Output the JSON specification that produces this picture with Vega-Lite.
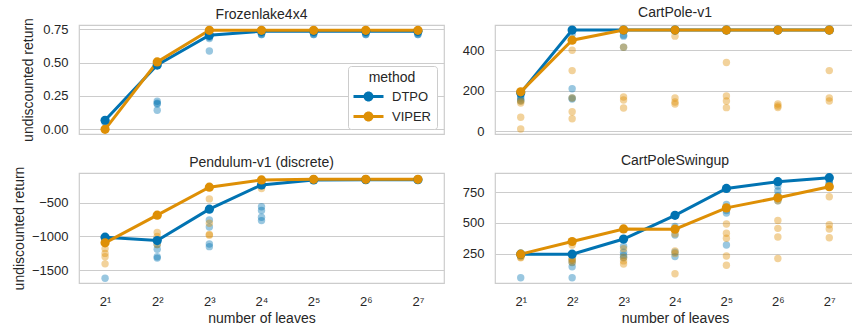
{
  "$schema": "https://vega.github.io/schema/vega-lite/v6.json",
  "background": "white",
  "padding": {"left": 11, "top": 5, "right": 0, "bottom": 0},
  "config": {
    "font": "Liberation Sans",
    "view": {"stroke": "#cccccc", "strokeWidth": 1.2},
    "axis": {"domain": false, "ticks": false, "labelFontSize": 13, "titleFontSize": 14, "labelColor": "#262626", "titleColor": "#262626", "titleFontWeight": "normal", "gridColor": "#cccccc", "gridWidth": 1, "labelPadding": 11, "titlePadding": 6},
    "axisX": {"grid": false},
    "axisY": {"grid": true, "tickCount": 10},
    "title": {"fontSize": 14, "fontWeight": "normal", "color": "#262626", "frame": "group"}
  },
  "datasets": {
    "frozen": [
      {"method":"DTPO","leaves":2,"ret":0.068},{"method":"DTPO","leaves":2,"ret":0.068},{"method":"DTPO","leaves":2,"ret":0.065},{"method":"DTPO","leaves":2,"ret":0.06},{"method":"DTPO","leaves":2,"ret":0.05},
      {"method":"DTPO","leaves":4,"ret":0.482},{"method":"DTPO","leaves":4,"ret":0.21},{"method":"DTPO","leaves":4,"ret":0.195},{"method":"DTPO","leaves":4,"ret":0.19},{"method":"DTPO","leaves":4,"ret":0.143},
      {"method":"DTPO","leaves":8,"ret":0.705},{"method":"DTPO","leaves":8,"ret":0.7},{"method":"DTPO","leaves":8,"ret":0.69},{"method":"DTPO","leaves":8,"ret":0.68},{"method":"DTPO","leaves":8,"ret":0.587},
      {"method":"DTPO","leaves":16,"ret":0.735},{"method":"DTPO","leaves":16,"ret":0.73},{"method":"DTPO","leaves":16,"ret":0.72},{"method":"DTPO","leaves":16,"ret":0.71},{"method":"DTPO","leaves":16,"ret":0.71},
      {"method":"DTPO","leaves":32,"ret":0.735},{"method":"DTPO","leaves":32,"ret":0.73},{"method":"DTPO","leaves":32,"ret":0.72},{"method":"DTPO","leaves":32,"ret":0.71},{"method":"DTPO","leaves":32,"ret":0.71},
      {"method":"DTPO","leaves":64,"ret":0.735},{"method":"DTPO","leaves":64,"ret":0.73},{"method":"DTPO","leaves":64,"ret":0.72},{"method":"DTPO","leaves":64,"ret":0.71},{"method":"DTPO","leaves":64,"ret":0.71},
      {"method":"DTPO","leaves":128,"ret":0.735},{"method":"DTPO","leaves":128,"ret":0.73},{"method":"DTPO","leaves":128,"ret":0.72},{"method":"DTPO","leaves":128,"ret":0.71},{"method":"DTPO","leaves":128,"ret":0.71},
      {"method":"VIPER","leaves":2,"ret":0},{"method":"VIPER","leaves":2,"ret":0},{"method":"VIPER","leaves":2,"ret":0},{"method":"VIPER","leaves":2,"ret":0},{"method":"VIPER","leaves":2,"ret":0},
      {"method":"VIPER","leaves":4,"ret":0.505},{"method":"VIPER","leaves":4,"ret":0.5},{"method":"VIPER","leaves":4,"ret":0.5},{"method":"VIPER","leaves":4,"ret":0.495},{"method":"VIPER","leaves":4,"ret":0.49},
      {"method":"VIPER","leaves":8,"ret":0.742},{"method":"VIPER","leaves":8,"ret":0.742},{"method":"VIPER","leaves":8,"ret":0.74},{"method":"VIPER","leaves":8,"ret":0.74},{"method":"VIPER","leaves":8,"ret":0.738},
      {"method":"VIPER","leaves":16,"ret":0.742},{"method":"VIPER","leaves":16,"ret":0.742},{"method":"VIPER","leaves":16,"ret":0.74},{"method":"VIPER","leaves":16,"ret":0.74},{"method":"VIPER","leaves":16,"ret":0.738},
      {"method":"VIPER","leaves":32,"ret":0.742},{"method":"VIPER","leaves":32,"ret":0.742},{"method":"VIPER","leaves":32,"ret":0.74},{"method":"VIPER","leaves":32,"ret":0.74},{"method":"VIPER","leaves":32,"ret":0.738},
      {"method":"VIPER","leaves":64,"ret":0.742},{"method":"VIPER","leaves":64,"ret":0.742},{"method":"VIPER","leaves":64,"ret":0.74},{"method":"VIPER","leaves":64,"ret":0.74},{"method":"VIPER","leaves":64,"ret":0.738},
      {"method":"VIPER","leaves":128,"ret":0.742},{"method":"VIPER","leaves":128,"ret":0.742},{"method":"VIPER","leaves":128,"ret":0.74},{"method":"VIPER","leaves":128,"ret":0.74},{"method":"VIPER","leaves":128,"ret":0.738}
    ],
    "cartpole": [
      {"method":"DTPO","leaves":2,"ret":190},{"method":"DTPO","leaves":2,"ret":175},{"method":"DTPO","leaves":2,"ret":165},{"method":"DTPO","leaves":2,"ret":155},{"method":"DTPO","leaves":2,"ret":150},
      {"method":"DTPO","leaves":4,"ret":500},{"method":"DTPO","leaves":4,"ret":480},{"method":"DTPO","leaves":4,"ret":210},{"method":"DTPO","leaves":4,"ret":165},{"method":"DTPO","leaves":4,"ret":160},
      {"method":"DTPO","leaves":8,"ret":500},{"method":"DTPO","leaves":8,"ret":500},{"method":"DTPO","leaves":8,"ret":475},{"method":"DTPO","leaves":8,"ret":470},{"method":"DTPO","leaves":8,"ret":415},
      {"method":"DTPO","leaves":16,"ret":500},{"method":"DTPO","leaves":16,"ret":500},{"method":"DTPO","leaves":16,"ret":500},{"method":"DTPO","leaves":16,"ret":500},{"method":"DTPO","leaves":16,"ret":500},
      {"method":"DTPO","leaves":32,"ret":500},{"method":"DTPO","leaves":32,"ret":500},{"method":"DTPO","leaves":32,"ret":500},{"method":"DTPO","leaves":32,"ret":500},{"method":"DTPO","leaves":32,"ret":500},
      {"method":"DTPO","leaves":64,"ret":500},{"method":"DTPO","leaves":64,"ret":500},{"method":"DTPO","leaves":64,"ret":500},{"method":"DTPO","leaves":64,"ret":500},{"method":"DTPO","leaves":64,"ret":500},
      {"method":"DTPO","leaves":128,"ret":500},{"method":"DTPO","leaves":128,"ret":500},{"method":"DTPO","leaves":128,"ret":500},{"method":"DTPO","leaves":128,"ret":500},{"method":"DTPO","leaves":128,"ret":500},
      {"method":"VIPER","leaves":2,"ret":195},{"method":"VIPER","leaves":2,"ret":150},{"method":"VIPER","leaves":2,"ret":140},{"method":"VIPER","leaves":2,"ret":70},{"method":"VIPER","leaves":2,"ret":12},
      {"method":"VIPER","leaves":4,"ret":450},{"method":"VIPER","leaves":4,"ret":400},{"method":"VIPER","leaves":4,"ret":300},{"method":"VIPER","leaves":4,"ret":165},{"method":"VIPER","leaves":4,"ret":97},{"method":"VIPER","leaves":4,"ret":62},
      {"method":"VIPER","leaves":8,"ret":500},{"method":"VIPER","leaves":8,"ret":415},{"method":"VIPER","leaves":8,"ret":170},{"method":"VIPER","leaves":8,"ret":155},{"method":"VIPER","leaves":8,"ret":115},
      {"method":"VIPER","leaves":16,"ret":500},{"method":"VIPER","leaves":16,"ret":470},{"method":"VIPER","leaves":16,"ret":165},{"method":"VIPER","leaves":16,"ret":145},{"method":"VIPER","leaves":16,"ret":135},
      {"method":"VIPER","leaves":32,"ret":500},{"method":"VIPER","leaves":32,"ret":340},{"method":"VIPER","leaves":32,"ret":175},{"method":"VIPER","leaves":32,"ret":150},{"method":"VIPER","leaves":32,"ret":117},
      {"method":"VIPER","leaves":64,"ret":500},{"method":"VIPER","leaves":64,"ret":500},{"method":"VIPER","leaves":64,"ret":135},{"method":"VIPER","leaves":64,"ret":125},{"method":"VIPER","leaves":64,"ret":118},
      {"method":"VIPER","leaves":128,"ret":500},{"method":"VIPER","leaves":128,"ret":500},{"method":"VIPER","leaves":128,"ret":300},{"method":"VIPER","leaves":128,"ret":165},{"method":"VIPER","leaves":128,"ret":150}
    ],
    "pendulum": [
      {"method":"DTPO","leaves":2,"ret":-1010},{"method":"DTPO","leaves":2,"ret":-1030},{"method":"DTPO","leaves":2,"ret":-1050},{"method":"DTPO","leaves":2,"ret":-1080},{"method":"DTPO","leaves":2,"ret":-1617},
      {"method":"DTPO","leaves":4,"ret":-1060},{"method":"DTPO","leaves":4,"ret":-1120},{"method":"DTPO","leaves":4,"ret":-1190},{"method":"DTPO","leaves":4,"ret":-1300},{"method":"DTPO","leaves":4,"ret":-1320},
      {"method":"DTPO","leaves":8,"ret":-596},{"method":"DTPO","leaves":8,"ret":-755},{"method":"DTPO","leaves":8,"ret":-860},{"method":"DTPO","leaves":8,"ret":-1110},{"method":"DTPO","leaves":8,"ret":-1150},
      {"method":"DTPO","leaves":16,"ret":-237},{"method":"DTPO","leaves":16,"ret":-560},{"method":"DTPO","leaves":16,"ret":-615},{"method":"DTPO","leaves":16,"ret":-715},{"method":"DTPO","leaves":16,"ret":-765},
      {"method":"DTPO","leaves":32,"ret":-163},{"method":"DTPO","leaves":32,"ret":-165},{"method":"DTPO","leaves":32,"ret":-170},{"method":"DTPO","leaves":32,"ret":-168},{"method":"DTPO","leaves":32,"ret":-166},
      {"method":"DTPO","leaves":64,"ret":-160},{"method":"DTPO","leaves":64,"ret":-165},{"method":"DTPO","leaves":64,"ret":-170},{"method":"DTPO","leaves":64,"ret":-168},{"method":"DTPO","leaves":64,"ret":-166},
      {"method":"DTPO","leaves":128,"ret":-160},{"method":"DTPO","leaves":128,"ret":-165},{"method":"DTPO","leaves":128,"ret":-170},{"method":"DTPO","leaves":128,"ret":-168},{"method":"DTPO","leaves":128,"ret":-166},
      {"method":"VIPER","leaves":2,"ret":-1094},{"method":"VIPER","leaves":2,"ret":-1180},{"method":"VIPER","leaves":2,"ret":-1250},{"method":"VIPER","leaves":2,"ret":-1300},{"method":"VIPER","leaves":2,"ret":-1405},
      {"method":"VIPER","leaves":4,"ret":-685},{"method":"VIPER","leaves":4,"ret":-940},{"method":"VIPER","leaves":4,"ret":-1000},{"method":"VIPER","leaves":4,"ret":-1060},{"method":"VIPER","leaves":4,"ret":-1120},
      {"method":"VIPER","leaves":8,"ret":-271},{"method":"VIPER","leaves":8,"ret":-444},{"method":"VIPER","leaves":8,"ret":-805},{"method":"VIPER","leaves":8,"ret":-970},{"method":"VIPER","leaves":8,"ret":-980},
      {"method":"VIPER","leaves":16,"ret":-163},{"method":"VIPER","leaves":16,"ret":-170},{"method":"VIPER","leaves":16,"ret":-200},{"method":"VIPER","leaves":16,"ret":-250},{"method":"VIPER","leaves":16,"ret":-290},
      {"method":"VIPER","leaves":32,"ret":-155},{"method":"VIPER","leaves":32,"ret":-160},{"method":"VIPER","leaves":32,"ret":-158},{"method":"VIPER","leaves":32,"ret":-162},{"method":"VIPER","leaves":32,"ret":-157},
      {"method":"VIPER","leaves":64,"ret":-155},{"method":"VIPER","leaves":64,"ret":-160},{"method":"VIPER","leaves":64,"ret":-158},{"method":"VIPER","leaves":64,"ret":-162},{"method":"VIPER","leaves":64,"ret":-157},
      {"method":"VIPER","leaves":128,"ret":-155},{"method":"VIPER","leaves":128,"ret":-160},{"method":"VIPER","leaves":128,"ret":-158},{"method":"VIPER","leaves":128,"ret":-162},{"method":"VIPER","leaves":128,"ret":-157}
    ],
    "swingup": [
      {"method":"DTPO","leaves":2,"ret":245},{"method":"DTPO","leaves":2,"ret":240},{"method":"DTPO","leaves":2,"ret":235},{"method":"DTPO","leaves":2,"ret":230},{"method":"DTPO","leaves":2,"ret":53},
      {"method":"DTPO","leaves":4,"ret":245},{"method":"DTPO","leaves":4,"ret":200},{"method":"DTPO","leaves":4,"ret":176},{"method":"DTPO","leaves":4,"ret":143},{"method":"DTPO","leaves":4,"ret":53},
      {"method":"DTPO","leaves":8,"ret":368},{"method":"DTPO","leaves":8,"ret":310},{"method":"DTPO","leaves":8,"ret":260},{"method":"DTPO","leaves":8,"ret":235},{"method":"DTPO","leaves":8,"ret":215},
      {"method":"DTPO","leaves":16,"ret":561},{"method":"DTPO","leaves":16,"ret":470},{"method":"DTPO","leaves":16,"ret":400},{"method":"DTPO","leaves":16,"ret":260},{"method":"DTPO","leaves":16,"ret":225},
      {"method":"DTPO","leaves":32,"ret":780},{"method":"DTPO","leaves":32,"ret":650},{"method":"DTPO","leaves":32,"ret":600},{"method":"DTPO","leaves":32,"ret":580},{"method":"DTPO","leaves":32,"ret":320},
      {"method":"DTPO","leaves":64,"ret":835},{"method":"DTPO","leaves":64,"ret":800},{"method":"DTPO","leaves":64,"ret":760},{"method":"DTPO","leaves":64,"ret":720},{"method":"DTPO","leaves":64,"ret":680},
      {"method":"DTPO","leaves":128,"ret":868},{"method":"DTPO","leaves":128,"ret":850},{"method":"DTPO","leaves":128,"ret":830},{"method":"DTPO","leaves":128,"ret":820},{"method":"DTPO","leaves":128,"ret":800},
      {"method":"VIPER","leaves":2,"ret":245},{"method":"VIPER","leaves":2,"ret":240},{"method":"VIPER","leaves":2,"ret":230},{"method":"VIPER","leaves":2,"ret":220},{"method":"VIPER","leaves":2,"ret":215},
      {"method":"VIPER","leaves":4,"ret":348},{"method":"VIPER","leaves":4,"ret":320},{"method":"VIPER","leaves":4,"ret":210},{"method":"VIPER","leaves":4,"ret":195},{"method":"VIPER","leaves":4,"ret":180},
      {"method":"VIPER","leaves":8,"ret":450},{"method":"VIPER","leaves":8,"ret":290},{"method":"VIPER","leaves":8,"ret":220},{"method":"VIPER","leaves":8,"ret":190},{"method":"VIPER","leaves":8,"ret":165},
      {"method":"VIPER","leaves":16,"ret":448},{"method":"VIPER","leaves":16,"ret":410},{"method":"VIPER","leaves":16,"ret":270},{"method":"VIPER","leaves":16,"ret":250},{"method":"VIPER","leaves":16,"ret":85},
      {"method":"VIPER","leaves":32,"ret":622},{"method":"VIPER","leaves":32,"ret":490},{"method":"VIPER","leaves":32,"ret":415},{"method":"VIPER","leaves":32,"ret":375},{"method":"VIPER","leaves":32,"ret":230},{"method":"VIPER","leaves":32,"ret":155},
      {"method":"VIPER","leaves":64,"ret":704},{"method":"VIPER","leaves":64,"ret":680},{"method":"VIPER","leaves":64,"ret":520},{"method":"VIPER","leaves":64,"ret":455},{"method":"VIPER","leaves":64,"ret":385},{"method":"VIPER","leaves":64,"ret":210},
      {"method":"VIPER","leaves":128,"ret":794},{"method":"VIPER","leaves":128,"ret":712},{"method":"VIPER","leaves":128,"ret":485},{"method":"VIPER","leaves":128,"ret":450},{"method":"VIPER","leaves":128,"ret":378}
    ]
  },
  "columns": 2,
  "align": "each",
  "spacing": {"row": 11, "column": 16},
  "concat": [
    {
      "width": 365, "height": 109,
      "title": {"text": "Frozenlake4x4", "offset": -4},
      "data": {"name": "frozen"},
      "encoding": {"x": {"field": "leaves", "type": "ordinal", "scale": {"type": "point", "padding": 0.5}, "axis": null}},
      "layer": [
        {"mark": {"type": "circle", "size": 55, "opacity": 1, "fillOpacity": 0.4},
         "encoding": {"y": {"field": "ret", "type": "quantitative", "title": "undiscounted return", "scale": {"domain": [-0.035, 0.782], "nice": false, "zero": false}, "axis": {"values": [0, 0.25, 0.5, 0.75], "format": ".2f", "titleX": -51, "titleBaseline": "middle"}},
                      "fill": {"field": "method", "type": "nominal", "title": "method", "scale": {"domain": ["DTPO", "VIPER"], "range": ["#0173b2", "#de8f05"]}}}},
        {"mark": {"type": "line", "strokeWidth": 3},
         "encoding": {"y": {"aggregate": "max", "field": "ret", "type": "quantitative", "title": "undiscounted return"},
                      "stroke": {"field": "method", "type": "nominal", "scale": {"domain": ["DTPO", "VIPER"], "range": ["#0173b2", "#de8f05"]}, "legend": null}}},
        {"mark": {"type": "point", "filled": true, "size": 85, "opacity": 1, "strokeWidth": 0},
         "encoding": {"y": {"aggregate": "max", "field": "ret", "type": "quantitative", "title": "undiscounted return"},
                      "fill": {"field": "method", "type": "nominal", "title": "method", "legend": {
                        "orient": "none", "legendX": 269, "legendY": 41,
                        "titleFontSize": 14, "titleFontWeight": "normal", "titleColor": "#262626", "titleAnchor": "middle", "titlePadding": 5,
                        "labelFontSize": 13, "labelColor": "#262626",
                        "strokeColor": "#cccccc", "fillColor": "white", "cornerRadius": 3, "padding": 5,
                        "symbolType": "M-2.5,-0.25L2.5,-0.25L2.5,0.25L-2.5,0.25Z M0.83,0A0.83,0.83 0 1,1 -0.83,0A0.83,0.83 0 1,1 0.83,0Z",
                        "symbolSize": 144, "symbolOffset": 9, "labelOffset": 17, "symbolStrokeWidth": 0, "symbolOpacity": 1, "symbolFillOpacity": 1, "rowPadding": 6}}}}
      ]
    },
    {
      "width": 360, "height": 109,
      "title": {"text": "CartPole-v1", "offset": 4},
      "data": {"name": "cartpole"},
      "encoding": {"x": {"field": "leaves", "type": "ordinal", "scale": {"type": "point", "padding": 0.5}, "axis": null}},
      "layer": [
        {"mark": {"type": "circle", "size": 55, "opacity": 1, "fillOpacity": 0.4},
         "encoding": {"y": {"field": "ret", "type": "quantitative", "title": null, "scale": {"domain": [-13, 525], "nice": false, "zero": false}, "axis": {"values": [0, 200, 400], "format": "d", "title": null}},
                      "fill": {"field": "method", "type": "nominal", "title": "method"}}},
        {"mark": {"type": "line", "strokeWidth": 3},
         "encoding": {"y": {"aggregate": "max", "field": "ret", "type": "quantitative", "title": null},
                      "stroke": {"field": "method", "type": "nominal", "legend": null}}},
        {"mark": {"type": "point", "filled": true, "size": 85, "opacity": 1, "strokeWidth": 0},
         "encoding": {"y": {"aggregate": "max", "field": "ret", "type": "quantitative", "title": null},
                      "fill": {"field": "method", "type": "nominal", "title": "method"}}}
      ]
    },
    {
      "width": 365, "height": 110,
      "title": {"text": "Pendulum-v1 (discrete)", "offset": -4},
      "data": {"name": "pendulum"},
      "encoding": {"x": {"field": "leaves", "type": "ordinal", "title": "number of leaves", "scale": {"type": "point", "padding": 0.5}, "axis": {"labelAngle": 0, "labelPadding": 12, "titlePadding": 3, "labelExpr": "'2' + ['¹','²','³','⁴','⁵','⁶','⁷'][indexof([2,4,8,16,32,64,128], datum.value)]"}}},
      "layer": [
        {"mark": {"type": "circle", "size": 55, "opacity": 1, "fillOpacity": 0.4},
         "encoding": {"y": {"field": "ret", "type": "quantitative", "title": "undiscounted return", "scale": {"domain": [-1688, -61], "nice": false, "zero": false}, "axis": {"values": [-1500, -1000, -500], "format": "d", "titleX": -60, "titleBaseline": "middle"}},
                      "fill": {"field": "method", "type": "nominal", "title": "method"}}},
        {"mark": {"type": "line", "strokeWidth": 3},
         "encoding": {"y": {"aggregate": "max", "field": "ret", "type": "quantitative", "title": "undiscounted return"},
                      "stroke": {"field": "method", "type": "nominal", "legend": null}}},
        {"mark": {"type": "point", "filled": true, "size": 85, "opacity": 1, "strokeWidth": 0},
         "encoding": {"y": {"aggregate": "max", "field": "ret", "type": "quantitative", "title": "undiscounted return"},
                      "fill": {"field": "method", "type": "nominal", "title": "method"}}}
      ]
    },
    {
      "width": 360, "height": 110,
      "title": {"text": "CartPoleSwingup", "offset": 4},
      "data": {"name": "swingup"},
      "encoding": {"x": {"field": "leaves", "type": "ordinal", "title": "number of leaves", "scale": {"type": "point", "padding": 0.5}, "axis": {"labelAngle": 0, "labelPadding": 12, "titlePadding": 3, "labelExpr": "'2' + ['¹','²','³','⁴','⁵','⁶','⁷'][indexof([2,4,8,16,32,64,128], datum.value)]"}}},
      "layer": [
        {"mark": {"type": "circle", "size": 55, "opacity": 1, "fillOpacity": 0.4},
         "encoding": {"y": {"field": "ret", "type": "quantitative", "title": null, "scale": {"domain": [10, 906], "nice": false, "zero": false}, "axis": {"values": [250, 500, 750], "format": "d", "title": null}},
                      "fill": {"field": "method", "type": "nominal", "title": "method"}}},
        {"mark": {"type": "line", "strokeWidth": 3},
         "encoding": {"y": {"aggregate": "max", "field": "ret", "type": "quantitative", "title": null},
                      "stroke": {"field": "method", "type": "nominal", "legend": null}}},
        {"mark": {"type": "point", "filled": true, "size": 85, "opacity": 1, "strokeWidth": 0},
         "encoding": {"y": {"aggregate": "max", "field": "ret", "type": "quantitative", "title": null},
                      "fill": {"field": "method", "type": "nominal", "title": "method"}}}
      ]
    }
  ]
}
